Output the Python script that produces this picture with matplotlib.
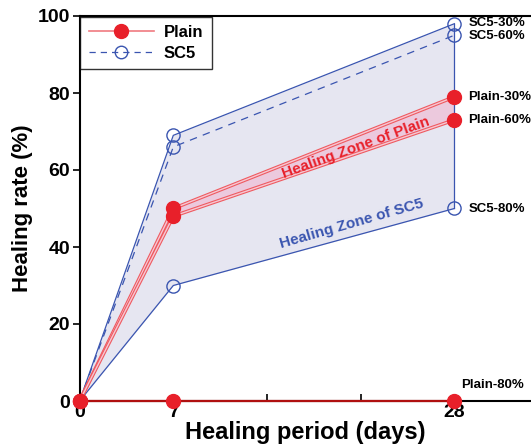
import matplotlib
matplotlib.use("Agg")
import matplotlib.patheffects as pe
from matplotlib import pyplot as plt
from matplotlib.lines import Line2D

# healing periods (days) and where they sit on the axis
days = [0, 7, 28]
day_pos = [0, 1, 4]

# healing rate (%)
plain_30 = [0, 50, 79]
plain_60 = [0, 48, 73]
plain_80 = [0, 0, 0]
sc5_30 = [0, 69, 98]
sc5_60 = [0, 66, 95]
sc5_80 = [0, 30, 50]

RED = "#e8202a"
BLUE = "#3a55b0"

plt.rcParams["font.family"] = ["Liberation Sans", "DejaVu Sans"]
plt.rcParams["font.weight"] = "bold"

fig = plt.figure(figsize=(5.31, 4.48), dpi=100)
ax = fig.add_axes([79.6 / 531, 47 / 448, 1 - 79.6 / 531, 385 / 448])

# shaded zones
ax.fill_between(day_pos, sc5_30, sc5_80, color="#e6e6f1", lw=0, zorder=1)
ax.fill_between(day_pos, plain_30, plain_60, color="#ecc9dd", lw=0, zorder=2)

# SC5 series
ax.plot(day_pos, sc5_30, color=BLUE, lw=0.9, zorder=3)
ax.plot(day_pos, sc5_60, color=BLUE, lw=0.9, ls=(0, (6, 5)), zorder=3)
ax.plot(day_pos, sc5_80, color=BLUE, lw=0.9, zorder=3)
ax.plot([day_pos[-1], day_pos[-1]], [sc5_80[-1], sc5_30[-1]], color=BLUE,
        lw=0.9, zorder=3)
for s in (sc5_30, sc5_60, sc5_80):
    ax.plot(day_pos, s, ls="none", marker="o", ms=9.5, mfc="none",
            mec=BLUE, mew=1.0, zorder=4, clip_on=False)

# Plain series (double red line look)
dbl = [pe.Stroke(linewidth=2.6, foreground="#ef5a60"),
       pe.Stroke(linewidth=1.0, foreground="#f6c8d4")]
for s in (plain_30, plain_60):
    ax.plot(day_pos, s, color=RED, lw=1, path_effects=dbl, zorder=5)
ax.plot(day_pos, plain_80, color="#b01010", lw=1.6, zorder=5, clip_on=False)
for s in (plain_30, plain_60, plain_80):
    ax.plot(day_pos, s, ls="none", marker="o", ms=10, mfc=RED, mec=RED,
            zorder=6, clip_on=False)

# end labels
end_labels = [("SC5-30%", sc5_30[-1], 0.3), ("SC5-60%", sc5_60[-1], -0.2),
              ("Plain-30%", plain_30[-1], 0), ("Plain-60%", plain_60[-1], 0),
              ("SC5-80%", sc5_80[-1], 0), ("Plain-80%", plain_80[-1], 4.2)]
for txt, yv, dy in end_labels:
    x0 = day_pos[-1] + (0.07 if txt == "Plain-80%" else 0.15)
    ax.text(x0, yv + dy, txt, fontsize=9.5, fontweight="bold",
            ha="left", va="center", zorder=7, clip_on=False)

ax.text(2.95, 65.8, "Healing Zone of Plain", color=RED, fontsize=11,
        fontweight="bold", rotation=20, ha="center", va="center", zorder=7)
ax.text(2.90, 46.1, "Healing Zone of SC5", color=BLUE, fontsize=11,
        fontweight="bold", rotation=16, ha="center", va="center", zorder=7)

ax.set_xlim(0, (531 - 79.6) / 93.7)
ax.set_ylim(0, 100)
ax.set_xticks(range(5))
ax.set_xticklabels(["0", "7", "", "", "28"])
ax.set_yticks([0, 20, 40, 60, 80, 100])
ax.tick_params(axis="x", direction="in", length=5, width=1.2,
               labelsize=14, pad=2)
ax.tick_params(axis="y", direction="out", length=5, width=1.2,
               labelsize=14, pad=2)
for lab in ax.get_xticklabels() + ax.get_yticklabels():
    lab.set_fontweight("bold")
ax.spines["right"].set_visible(False)
for sp in ("left", "bottom", "top"):
    ax.spines[sp].set_linewidth(1.5)

ax.set_xlabel("Healing period (days)", fontsize=17, fontweight="bold",
              labelpad=0)
ax.set_ylabel("Healing rate (%)", fontsize=16, fontweight="bold", labelpad=3)

handles = [Line2D([], [], color="#f07a80", lw=1.2, marker="o", ms=10,
                  mfc=RED, mec=RED),
           Line2D([], [], color=BLUE, lw=0.9, ls=(0, (5, 4)), marker="o",
                  ms=9, mfc="none", mec=BLUE)]
leg = ax.legend(handles, ["Plain", "SC5"], loc="upper left", fontsize=12,
                frameon=True, fancybox=False, edgecolor="black",
                borderaxespad=0.05, handlelength=3.9, borderpad=0.5,
                labelspacing=0.35, handletextpad=0.6)
leg.get_frame().set_linewidth(1.0)
for t in leg.get_texts():
    t.set_fontweight("bold")

plt.savefig("out.png", dpi=100)
